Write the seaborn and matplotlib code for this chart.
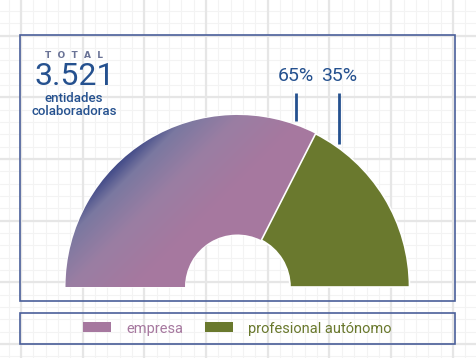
import numpy as np
import matplotlib
matplotlib.use("Agg")
import matplotlib.pyplot as plt
import seaborn as sns
from matplotlib.colors import LinearSegmentedColormap
from matplotlib.patches import Rectangle, Patch

# ---- data ----
categories = ["empresa", "profesional autónomo"]
shares = [65, 35]
pct_labels = ["65%", "35%"]
total_title = "T  O  T  A  L"
total_value = "3.521"
total_caption = "entidades\ncolaboradoras"
colors = ["#a6789f", "#6a792e"]

sns.set_theme(style="white")
plt.rcParams['font.family'] = ['Roboto', 'DejaVu Sans']
cond = ['Roboto', 'DejaVu Sans']

W, H = 477, 358
fig = plt.figure(figsize=(W / 100, H / 100), dpi=100)
fig.patch.set_facecolor("white")
ax = fig.add_axes([0, 0, 1, 1])

# background grid
step = 61.7
x0, y0 = 21, 35.5
for k in range(-1, 45):
    xm = x0 + k * step / 5
    ax.axvline(xm, color="#f3f3f3", lw=0.8, zorder=0)
    ym = y0 + k * step / 5 - step
    ax.axhline(ym, color="#f3f3f3", lw=0.8, zorder=0)
for k in range(-1, 9):
    ax.axvline(x0 + k * step, color="#e6e6e6", lw=1.6, zorder=0.1)
    ax.axhline(y0 + k * step, color="#e6e6e6", lw=1.6, zorder=0.1)

# half donut
cx, cy, R, Rin = 237.5, 287, 172, 52.5
fracs = [s / 200 for s in shares]
wedges, _ = ax.pie(fracs, normalize=False, startangle=180, counterclock=True,
                   colors=colors, center=(cx, cy), radius=R, frame=True,
                   wedgeprops=dict(width=R - Rin, edgecolor="white", linewidth=1.2))
wedges[0].set_zorder(1)
wedges[1].set_zorder(2)

# gradient on first wedge
xs = np.arange(W) + 0.5
ys = np.arange(H) + 0.5
X, Y = np.meshgrid(xs, ys)
S = X + Y
cmap = LinearSegmentedColormap.from_list(
    "grad", [(0.0, "#3f4887"), (0.18, "#7a78a0"), (0.54, "#9a7ea3"), (1.0, "#a6789f")])
im = ax.imshow(S, cmap=cmap, vmin=280, vmax=420, extent=(0, W, H, 0),
               origin="upper", zorder=1.5, interpolation="bilinear")
im.set_clip_path(wedges[0])

ax.set_xlim(0, W)
ax.set_ylim(H, 0)
ax.set_aspect("auto")
ax.axis("off")

# frames
frame_col = "#4a5f9a"
ax.add_patch(Rectangle((20, 35), 435, 266, fill=False, edgecolor=frame_col, lw=1.2, zorder=3))
ax.add_patch(Rectangle((20, 313), 435, 31, fill=False, edgecolor=frame_col, lw=1.2, zorder=3))

# total block
blue = "#25518f"
ax.text(74, 58, total_title, ha="center", va="baseline", fontsize=6.5,
        color="#6a7396", fontweight="bold", family=['DejaVu Sans'])
ax.text(74.5, 85, total_value, ha="center", va="baseline", fontsize=23,
        color=blue, family=cond)
ax.text(74, 105, total_caption, ha="center", va="center", fontsize=9.5,
        color=blue, fontweight="medium", linespacing=0.95)

# percentage labels with leader lines
lead_x = [296, 339]
for lx, lab in zip(lead_x, pct_labels):
    dx = lx - cx
    y_end = cy - np.sqrt(R ** 2 - dx ** 2) - 4
    ax.plot([lx, lx], [93, y_end], color=blue, lw=2, solid_capstyle="butt", zorder=4)
    ax.text(lx, 81, lab, ha="center", va="baseline", fontsize=14, color=blue, family=cond)

# legend
handles = [Patch(facecolor=c, edgecolor="none") for c in colors]
leg = ax.legend(handles, categories, ncol=2, loc="center",
                bbox_to_anchor=(237.5, 328.5), bbox_transform=ax.transData,
                frameon=False, fontsize=10.5, handlelength=1.92, handleheight=0.68,
                handletextpad=1.03, columnspacing=1.5, borderpad=0, borderaxespad=0)
for t, c in zip(leg.get_texts(), colors):
    t.set_color(c)

fig.savefig("out.png", dpi=100, facecolor="white")
